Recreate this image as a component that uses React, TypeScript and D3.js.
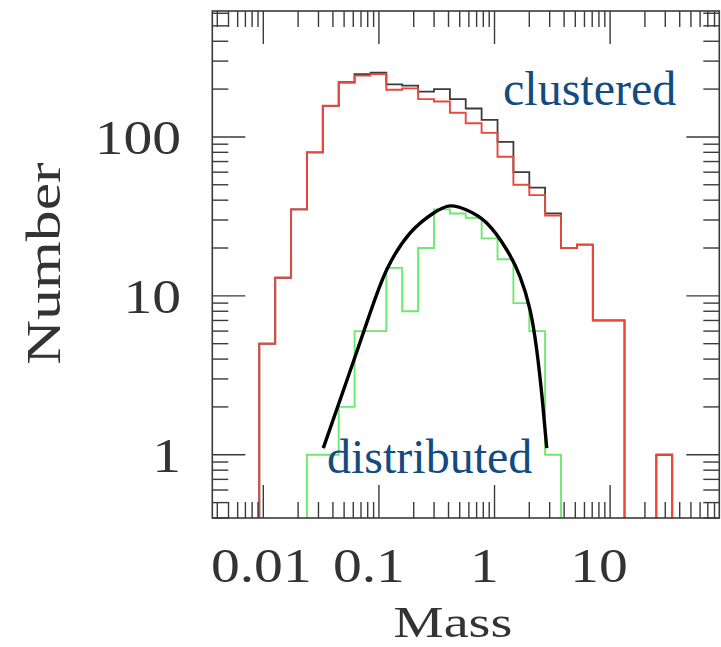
import React from "react";
import * as d3 from "d3";

// Log-spaced mass bin edges (26 bins)
const massEdges = [
  0.00923, 0.01268, 0.0174, 0.02383, 0.0327, 0.0449, 0.0616, 0.0846, 0.1159,
  0.159, 0.2183, 0.2996, 0.4113, 0.5635, 0.7733, 1.062, 1.457, 2.0, 2.74,
  3.761, 5.163, 7.086, 9.725, 13.32, 18.29, 25.1, 34.45,
];
// clustered (red)
const clusteredRed = [
  5, 13, 35, 80, 157, 219, 243, 249, 198, 202, 173, 167, 142, 122, 106, 75,
  50, 43, 32, 20, 21, 7, 7, 0, 0, 1,
];
// clustered (black)
const clusteredBlack = [
  5, 13, 35, 80, 157, 221, 248, 254, 214, 210, 193, 200, 173, 151, 128, 93,
  60, 48, 33, 20, 21, 7, 7, 0, 0, 1,
];
// distributed (green)
const distributed = [
  0, 0, 0, 1, 1, 2, 6, 6, 15, 8, 20, 35, 33, 31, 23, 17, 9, 6, 1, 0, 0, 0, 0,
  0, 0, 0,
];
// fitted curve
const fitMass = [
  0.033, 0.0509, 0.081, 0.1168, 0.1858, 0.2955, 0.4122, 0.5746, 0.856, 1.275,
  1.662, 2.028, 2.318, 2.592, 2.829,
];
const fitNumber = [
  1.1, 2.72, 7.24, 14.6, 24.8, 33.1, 36.8, 34.7, 28.7, 19.5, 13.2, 8.17, 4.57,
  2.22, 1.1,
];
const xTickValues = [0.01, 0.1, 1, 10];
const xTickLabels = ["0.01", "0.1", "1", "10"];
const yTickValues = [1, 10, 100];
const yTickLabels = ["1", "10", "100"];
const xLabel = "Mass";
const yLabel = "Number";
const labelClustered = "clustered";
const labelDistributed = "distributed";

const W = 721;
const H = 647;
const L = 212.3;
const R = 719.3;
const T = 11;
const B = 518;

const xTickLabelDx = [-2, -10, -10, -11];

export default function App() {
  const x = d3.scaleLog().domain([0.00362, 88]).range([L, R]);
  const y = d3.scaleLog().domain([0.4, 620]).range([B, T]);

  const stepPath = (counts: number[]) => {
    const below = B + 10;
    let d = `M${x(massEdges[0])},${below}`;
    counts.forEach((v, i) => {
      const yy = v > 0 ? y(v) : below;
      d += `L${x(massEdges[i])},${yy}L${x(massEdges[i + 1])},${yy}`;
    });
    d += `L${x(massEdges[massEdges.length - 1])},${below}`;
    return d;
  };

  const fitLine = d3
    .line<number>()
    .x((_, i) => x(fitMass[i]))
    .y((v) => y(v))
    .curve(d3.curveNatural);

  const xMinor: { v: number; major: boolean }[] = [];
  for (let e = -3; e <= 1; e++) {
    for (let k = 1; k <= 9; k++) {
      const v = k * Math.pow(10, e);
      const [a, b] = x.domain();
      if (v >= a && v <= b) xMinor.push({ v, major: k === 1 });
    }
  }
  const yMinor: { v: number; major: boolean }[] = [];
  for (let e = -1; e <= 2; e++) {
    for (let k = 1; k <= 9; k++) {
      const v = k * Math.pow(10, e);
      const [a, b] = y.domain();
      if (v >= a && v <= b) yMinor.push({ v, major: k === 1 });
    }
  }

  const axisColor = "#3a3a3a";
  const textColor = "#333";
  const blue = "#134b80";
  const MAJ = 33;
  const MIN = 16;

  return (
    <svg
      width={W}
      height={H}
      style={{ position: "absolute", left: 0, top: 0, display: "block", background: "#fff" }}
    >
      <defs>
        <clipPath id="plot">
          <rect x={L} y={T} width={R - L} height={B - T} />
        </clipPath>
      </defs>
      <rect x={0} y={0} width={W} height={H} fill="#fff" />
      <g clipPath="url(#plot)" fill="none" strokeLinejoin="miter">
        <path d={stepPath(clusteredBlack)} stroke="#3b3b3b" strokeWidth={1.8} />
        <path d={stepPath(clusteredRed)} stroke="#e8473b" strokeWidth={1.9} />
        <path d={stepPath(distributed)} stroke="#6fe86f" strokeWidth={1.9} />
        <path d={fitLine(fitNumber) || ""} stroke="#000" strokeWidth={3.4} />
      </g>
      {/* ticks */}
      <g stroke={axisColor} strokeWidth={1.4}>
        {xMinor.map((t, i) => {
          const xx = x(t.v);
          const len = t.major ? MAJ : MIN;
          return (
            <g key={"xt" + i}>
              <line x1={xx} x2={xx} y1={B} y2={B - len} />
              <line x1={xx} x2={xx} y1={T} y2={T + len} />
            </g>
          );
        })}
        {yMinor.map((t, i) => {
          const yy = y(t.v);
          const len = t.major ? MAJ : MIN;
          return (
            <g key={"yt" + i}>
              <line x1={L} x2={L + len} y1={yy} y2={yy} />
              <line x1={R} x2={R - len} y1={yy} y2={yy} />
            </g>
          );
        })}
        <rect x={L} y={T} width={R - L} height={B - T} fill="none" strokeWidth={1.6} />
      </g>
      {/* tick labels */}
      <g fill={textColor} fontFamily="'Liberation Serif', serif" fontSize={48}>
        {xTickValues.map((v, i) => (
          <text
            key={"xl" + i}
            transform={`translate(${x(v) + xTickLabelDx[i]},${581.5}) scale(1.2,1)`}
            textAnchor="middle"
          >
            {xTickLabels[i]}
          </text>
        ))}
        {yTickValues.map((v, i) => (
          <text
            key={"yl" + i}
            transform={`translate(181,${y(v) + 17}) scale(1.2,1)`}
            textAnchor="end"
          >
            {yTickLabels[i]}
          </text>
        ))}
      </g>
      <text
        transform="translate(453,636.5) scale(1.28,1)"
        textAnchor="middle"
        fontFamily="'Liberation Serif', serif"
        fontSize={44}
        fill={textColor}
      >
        {xLabel}
      </text>
      <text
        transform="translate(60,263.5) rotate(-90) scale(1.26,1)"
        textAnchor="middle"
        fontFamily="'Liberation Serif', serif"
        fontSize={49}
        fill={textColor}
      >
        {yLabel}
      </text>
      <text x={503} y={105} fontFamily="'Liberation Serif', serif" fontSize={48} fill={blue}>
        {labelClustered}
      </text>
      <text x={327} y={473.3} fontFamily="'Liberation Serif', serif" fontSize={48} fill={blue}>
        {labelDistributed}
      </text>
    </svg>
  );
}
